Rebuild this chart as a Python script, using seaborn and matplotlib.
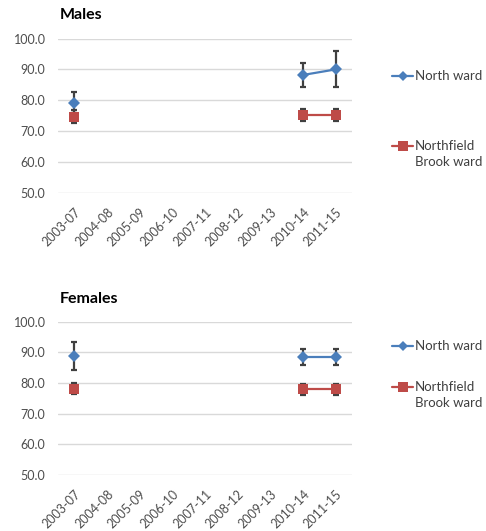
import numpy as np
import pandas as pd
import matplotlib
matplotlib.use("Agg")
import matplotlib.pyplot as plt
from matplotlib.lines import Line2D
import seaborn as sns

nan = np.nan
categories = ["2003-07", "2004-08", "2005-09", "2006-10", "2007-11",
              "2008-12", "2009-13", "2010-14", "2011-15"]
wards = ["North ward", "Northfield Brook ward"]

males_north = [79.2, nan, nan, nan, nan, nan, nan, 88.2, 90.0]
males_north_lo = [76.0, nan, nan, nan, nan, nan, nan, 84.3, 84.2]
males_north_hi = [82.6, nan, nan, nan, nan, nan, nan, 92.0, 96.1]
males_nf = [74.7, nan, nan, nan, nan, nan, nan, 75.2, 75.2]
males_nf_lo = [72.7, nan, nan, nan, nan, nan, nan, 73.3, 73.3]
males_nf_hi = [76.7, nan, nan, nan, nan, nan, nan, 77.3, 77.3]

females_north = [88.7, nan, nan, nan, nan, nan, nan, 88.4, 88.4]
females_north_lo = [84.2, nan, nan, nan, nan, nan, nan, 85.8, 85.8]
females_north_hi = [93.5, nan, nan, nan, nan, nan, nan, 91.2, 91.2]
females_nf = [78.2, nan, nan, nan, nan, nan, nan, 78.0, 78.0]
females_nf_lo = [76.5, nan, nan, nan, nan, nan, nan, 76.2, 76.2]
females_nf_hi = [79.9, nan, nan, nan, nan, nan, nan, 79.8, 79.8]

y_ticks = [50, 60, 70, 80, 90, 100]
colors = {"North ward": "#4A7EBB", "Northfield Brook ward": "#BE4B48"}
markers = {"North ward": "D", "Northfield Brook ward": "s"}


def build(series):
    rows = []
    for ward, (vals, lo, hi) in zip(wards, series):
        seg = 0
        prev_nan = True
        for i, (v, l, h) in enumerate(zip(vals, lo, hi)):
            isn = np.isnan(v)
            if not isn and prev_nan:
                seg += 1
            prev_nan = isn
            rows.append(dict(ward=ward, period=categories[i], pos=i,
                             value=v, lo=l, hi=h, seg=seg))
    return pd.DataFrame(rows)


males = build([(males_north, males_north_lo, males_north_hi),
               (males_nf, males_nf_lo, males_nf_hi)])
females = build([(females_north, females_north_lo, females_north_hi),
                 (females_nf, females_nf_lo, females_nf_hi)])

sns.set_theme(style="white")
plt.rcParams["font.family"] = ["Lato", "DejaVu Sans"]

W, H = 486, 531
fig = plt.figure(figsize=(W / 100, H / 100), dpi=100)
fig.patch.set_facecolor("white")

text_col = "#4D4D4D"


def panel(df, top_px, bottom_px, title, title_y, leg_y1, leg_y2):
    left, right = 58, 352
    ax = fig.add_axes([left / W, 1 - bottom_px / H, (right - left) / W,
                       (bottom_px - top_px) / H])
    for ward in wards:
        sub = df[df.ward == ward]
        ax.errorbar(sub.pos, sub.value,
                    yerr=[sub.value - sub.lo, sub.hi - sub.value],
                    fmt="none", ecolor="#404040", elinewidth=1.6,
                    capsize=2.2, capthick=1.6, zorder=2)
    d = df.dropna(subset=["value"])
    sns.lineplot(data=d, x="pos", y="value", hue="ward", style="ward",
                 units="seg", estimator=None, markers=markers, dashes=False,
                 palette=colors, hue_order=wards, style_order=wards,
                 linewidth=1.6, markersize=6.5, markeredgewidth=0,
                 legend=False, ax=ax, zorder=3)
    ax.set_xlim(-0.5, len(categories) - 0.5)
    ax.set_ylim(50, 100)
    ax.set_yticks(y_ticks)
    ax.set_yticklabels([f"{t:.1f}" for t in y_ticks])
    ax.set_xticks(range(len(categories)))
    ax.set_xticklabels(categories, rotation=45, ha="right", va="top",
                       rotation_mode="anchor")
    ax.tick_params(axis="both", length=0, labelsize=9, colors=text_col)
    ax.tick_params(axis="y", pad=9)
    ax.tick_params(axis="x", pad=9)
    ax.yaxis.grid(True, color="#D9D9D9", linewidth=1.0)
    ax.xaxis.grid(False)
    ax.set_axisbelow(True)
    for s in ax.spines.values():
        s.set_visible(False)
    ax.set_xlabel("")
    ax.set_ylabel("")
    fig.text(60 / W, 1 - title_y / H, title, fontsize=11.5, fontweight="bold",
             color="#000000", ha="left", va="center")
    for ward, ly in zip(wards, [leg_y1, leg_y2]):
        yf = 1 - ly / H
        fig.add_artist(Line2D([392 / W, 413 / W], [yf, yf],
                              color=colors[ward], linewidth=1.6,
                              transform=fig.transFigure))
        fig.add_artist(Line2D([402.5 / W], [yf], color=colors[ward],
                              marker=markers[ward],
                              markersize=5 if ward == wards[0] else 6.5,
                              markeredgewidth=0, linestyle="none",
                              transform=fig.transFigure))
    fig.text(415 / W, 1 - leg_y1 / H, "North ward", fontsize=9.5,
             color="#404040", ha="left", va="center")
    fig.text(415 / W, 1 - leg_y2 / H, "Northfield", fontsize=9.5,
             color="#404040", ha="left", va="center")
    fig.text(415 / W, 1 - (leg_y2 + 16) / H, "Brook ward", fontsize=9.5,
             color="#404040", ha="left", va="center")
    return ax


panel(males, 38.5, 193, "Males", 15, 76, 146)
panel(females, 321.7, 475, "Females", 299, 346, 387)

fig.savefig("out.png", dpi=100, facecolor="white")
